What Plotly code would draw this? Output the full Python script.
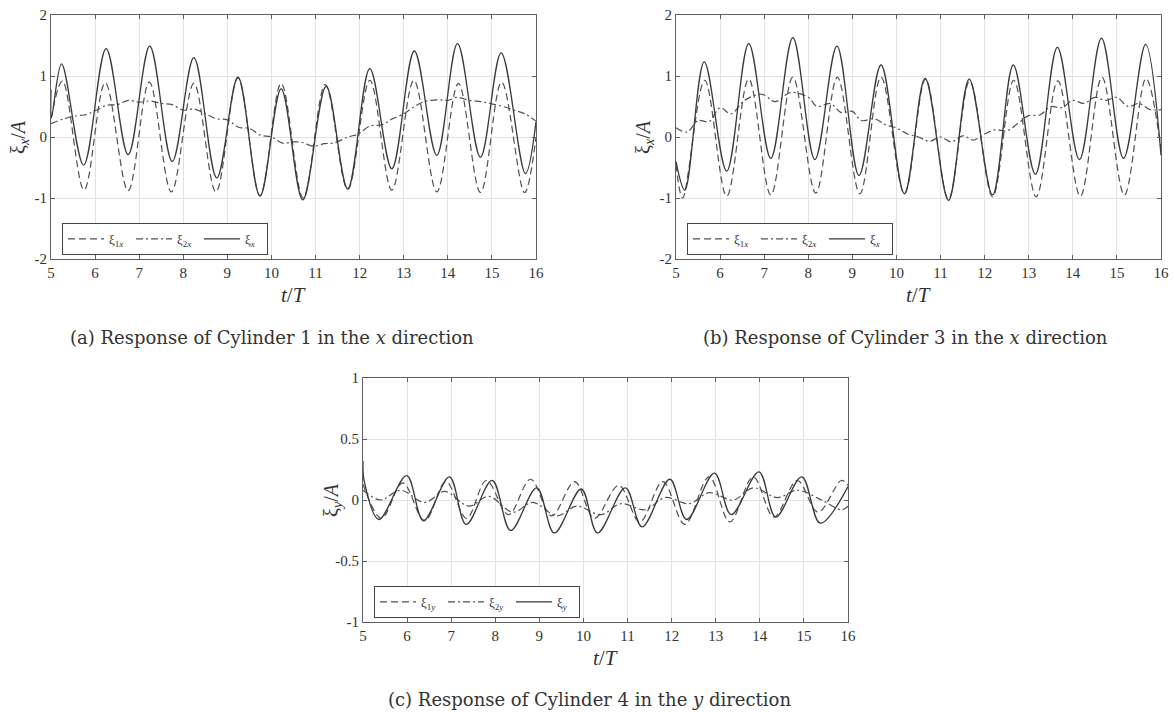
import plotly.graph_objects as go

W, H = 1174, 712

# ---------------- data ----------------
# Panel (a): Cylinder 1, x direction
ta_sol = [5.0, 5.012, 5.24, 5.74, 6.25, 6.75, 7.24, 7.75, 8.24, 8.76, 9.24, 9.74, 10.22, 10.71,
          11.24, 11.73, 12.23, 12.73, 13.24, 13.75, 14.22, 14.74, 15.21, 15.76, 16.0]
va_sol = [0.78, 0.32, 1.2, -0.46, 1.45, -0.29, 1.49, -0.4, 1.3, -0.67, 0.98, -0.97, 0.79, -1.03,
          0.83, -0.85, 1.12, -0.52, 1.41, -0.3, 1.53, -0.33, 1.38, -0.6, 0.25]
ta_d1 = [5.0, 5.26, 5.75, 6.23, 6.75, 7.23, 7.73, 8.24, 8.74, 9.24, 9.74, 10.22, 10.72, 11.22,
         11.73, 12.23, 12.73, 13.23, 13.75, 14.24, 14.74, 15.22, 15.74, 16.0]
va_d1 = [0.3, 0.92, -0.87, 0.89, -0.88, 0.9, -0.9, 0.88, -0.9, 0.97, -0.96, 0.88, -1.0, 0.86,
         -0.86, 0.93, -0.87, 0.93, -0.9, 0.88, -0.91, 0.9, -0.91, 0.0]
ta_d2 = [5.0, 5.3, 5.6, 5.75, 6.0, 6.26, 6.5, 6.75, 7.0, 7.25, 7.5, 7.75, 8.0, 8.25, 8.5, 8.75,
         9.0, 9.25, 9.5, 9.75, 10.0, 10.25, 10.5, 10.7, 10.95, 11.2, 11.4, 11.74, 11.97, 12.23,
         12.5, 12.75, 13.0, 13.2, 13.47, 13.8, 14.0, 14.2, 14.5, 14.75, 14.95, 15.25, 15.5,
         15.75, 16.0]
va_d2 = [0.22, 0.3, 0.35, 0.36, 0.43, 0.52, 0.53, 0.6, 0.57, 0.59, 0.55, 0.53, 0.44, 0.46, 0.38,
         0.3, 0.28, 0.16, 0.14, 0.03, 0.0, -0.1, -0.08, -0.09, -0.15, -0.11, -0.1, 0.0, 0.05,
         0.18, 0.2, 0.3, 0.38, 0.48, 0.58, 0.61, 0.6, 0.65, 0.6, 0.58, 0.55, 0.5, 0.44, 0.38,
         0.26]

# Panel (b): Cylinder 3, x direction
tb_sol = [5.0, 5.2, 5.64, 6.15, 6.65, 7.15, 7.65, 8.15, 8.65, 9.15, 9.65, 10.18, 10.65, 11.18,
          11.65, 12.18, 12.65, 13.15, 13.65, 14.15, 14.65, 15.15, 15.65, 16.0]
vb_sol = [-0.4, -0.87, 1.23, -0.56, 1.53, -0.35, 1.63, -0.37, 1.49, -0.63, 1.18, -0.93, 0.96,
          -1.04, 0.95, -0.95, 1.18, -0.61, 1.47, -0.37, 1.62, -0.35, 1.52, -0.3]
tb_d1 = [5.0, 5.15, 5.65, 6.15, 6.65, 7.15, 7.65, 8.17, 8.66, 9.17, 9.65, 10.18, 10.66, 11.18,
         11.66, 12.18, 12.66, 13.17, 13.66, 14.17, 14.66, 15.17, 15.66, 16.0]
vb_d1 = [-0.45, -1.0, 0.93, -0.97, 0.95, -0.95, 0.98, -0.92, 0.98, -0.93, 0.98, -0.93, 0.95,
         -1.02, 0.92, -0.98, 0.93, -0.98, 0.92, -0.97, 0.98, -0.95, 0.96, -0.2]
tb_d2 = [5.0, 5.25, 5.5, 5.75, 6.0, 6.25, 6.55, 6.95, 7.25, 7.6, 8.0, 8.2, 8.5, 8.75, 9.0, 9.2,
         9.5, 9.75, 10.0, 10.25, 10.5, 10.75, 11.0, 11.25, 11.5, 11.75, 12.0, 12.25, 12.5,
         12.75, 13.0, 13.25, 13.5, 13.75, 14.0, 14.25, 14.5, 14.75, 15.0, 15.25, 15.5, 15.75,
         16.0]
vb_d2 = [0.15, 0.08, 0.27, 0.25, 0.48, 0.38, 0.6, 0.7, 0.58, 0.73, 0.65, 0.5, 0.55, 0.4, 0.42,
         0.27, 0.3, 0.2, 0.15, 0.05, 0.0, -0.07, 0.0, -0.08, 0.02, -0.05, 0.05, 0.12, 0.1, 0.22,
         0.35, 0.36, 0.5, 0.48, 0.6, 0.55, 0.65, 0.6, 0.65, 0.5, 0.55, 0.45, 0.45]

# Panel (c): Cylinder 4, y direction
tc_sol = [5.0, 5.03, 5.36, 5.99, 6.37, 6.96, 7.34, 7.93, 8.35, 8.94, 9.34, 9.95, 10.32, 10.95,
          11.33, 11.96, 12.34, 12.97, 13.35, 13.98, 14.36, 14.95, 15.37, 16.0]
vc_sol = [0.32, 0.15, -0.16, 0.2, -0.17, 0.19, -0.2, 0.16, -0.25, 0.1, -0.27, 0.09, -0.27, 0.1,
          -0.22, 0.17, -0.16, 0.22, -0.12, 0.23, -0.14, 0.19, -0.19, 0.11]
tc_d1 = [5.0, 5.42, 5.9, 6.4, 6.88, 7.35, 7.8, 8.3, 8.8, 9.28, 9.8, 10.25, 10.8, 11.28, 11.8,
         12.3, 12.85, 13.32, 13.85, 14.32, 14.85, 15.32, 15.85, 16.0]
vc_d1 = [0.13, -0.15, 0.14, -0.17, 0.15, -0.15, 0.16, -0.12, 0.17, -0.13, 0.15, -0.15, 0.12,
         -0.18, 0.15, -0.2, 0.19, -0.18, 0.19, -0.14, 0.16, -0.1, 0.16, 0.12]
tc_d2 = [5.0, 5.4, 5.85, 6.4, 6.85, 7.4, 7.85, 8.4, 8.85, 9.4, 9.85, 10.4, 10.85, 11.4, 11.85,
         12.4, 12.85, 13.4, 13.85, 14.4, 14.85, 15.4, 15.85, 16.0]
vc_d2 = [0.08, 0.0, 0.08, -0.02, 0.07, -0.05, 0.03, -0.1, -0.02, -0.13, -0.05, -0.12, -0.03,
         -0.08, 0.02, -0.03, 0.06, 0.0, 0.1, 0.02, 0.08, 0.0, -0.08, -0.05]

x_ticks = [5, 6, 7, 8, 9, 10, 11, 12, 13, 14, 15, 16]
y_ticks_x = [-2, -1, 0, 1, 2]
y_ticks_x_text = ["-2", "-1", "0", "1", "2"]
y_ticks_y = [-1, -0.5, 0, 0.5, 1]
y_ticks_y_text = ["-1", "-0.5", "0", "0.5", "1"]

captions = ["(a) Response of Cylinder 1 in the <i>x</i> direction",
            "(b) Response of Cylinder 3 in the <i>x</i> direction",
            "(c) Response of Cylinder 4 in the <i>y</i> direction"]

# ---------------- layout geometry (window pixels) ----------------
panels = [
    dict(x0=51, x1=536, y0=15, y1=259),
    dict(x0=676, x1=1161, y0=15, y1=259),
    dict(x0=363, x1=848, y0=378, y1=622),
]
cap_pos = [(272, 337), (905, 337), (590, 699)]


def px(x):
    return x / W


def py(y):
    return 1 - y / H


FONT = "Liberation Serif"
CAPFONT = "DejaVu Serif"
C_SOL = "#3a3a3a"
C_DASH = "#505050"
C_DD = "#505050"
AXC = "#5f5f5f"
GRID = "#e2e2e2"
TXT = "#333333"

fig = go.Figure()

series = [
    (ta_d1, va_d1, ta_d2, va_d2, ta_sol, va_sol, "x"),
    (tb_d1, vb_d1, tb_d2, vb_d2, tb_sol, vb_sol, "x"),
    (tc_d1, vc_d1, tc_d2, vc_d2, tc_sol, vc_sol, "y"),
]

for i, (t1, v1, t2, v2, ts, vs, comp) in enumerate(series):
    ax = "" if i == 0 else str(i + 1)
    lg = "legend" if i == 0 else f"legend{i + 1}"
    common = dict(mode="lines", xaxis="x" + ax, yaxis="y" + ax, legend=lg,
                  line_shape="spline")
    fig.add_trace(go.Scatter(x=t1, y=v1, name=f"ξ<sub>1<i>{comp}</i></sub>",
                             line=dict(color=C_DASH, width=1.2, dash="7px,4px", smoothing=1.0),
                             **common))
    fig.add_trace(go.Scatter(x=t2, y=v2, name=f"ξ<sub>2<i>{comp}</i></sub>",
                             line=dict(color=C_DD, width=1.2, dash="7px,3px,2px,3px", smoothing=1.0),
                             **common))
    fig.add_trace(go.Scatter(x=ts, y=vs, name=f"ξ<sub><i>{comp}</i></sub>",
                             line=dict(color=C_SOL, width=1.3, smoothing=1.0),
                             **common))

layout = dict(width=W, height=H, margin=dict(l=0, r=0, t=0, b=0, autoexpand=False),
              paper_bgcolor="white", plot_bgcolor="white",
              font=dict(family=FONT, size=14, color=TXT))

annotations = []
for i, p in enumerate(panels):
    ax = "" if i == 0 else str(i + 1)
    yx = i < 2
    tickfont = dict(size=15, family=FONT, color=TXT)
    xa = dict(domain=[px(p["x0"]), px(p["x1"])], range=[5, 16], automargin=False,
              anchor="y" + ax, tickvals=x_ticks, ticktext=[str(v) for v in x_ticks],
              showgrid=True, gridcolor=GRID, gridwidth=1, zeroline=False,
              showline=True, linecolor=AXC, linewidth=1, mirror="ticks",
              ticks="inside", ticklen=4, tickcolor=AXC, tickfont=tickfont,
              ticklabeloverflow="allow")
    ya = dict(domain=[py(p["y1"]), py(p["y0"])], automargin=False,
              range=[-2, 2] if yx else [-1, 1], anchor="x" + ax,
              tickvals=y_ticks_x if yx else y_ticks_y,
              ticktext=y_ticks_x_text if yx else y_ticks_y_text,
              showgrid=True, gridcolor=GRID, gridwidth=1, zeroline=False,
              showline=True, linecolor=AXC, linewidth=1, mirror="ticks",
              ticks="inside", ticklen=4, tickcolor=AXC, tickfont=tickfont,
              ticklabeloverflow="allow")
    layout["xaxis" + ax] = xa
    layout["yaxis" + ax] = ya
    lg = "legend" if i == 0 else f"legend{i + 1}"
    layout[lg] = dict(orientation="h", x=px(p["x0"] + 11), y=py(p["y1"] - 36),
                      xanchor="left", yanchor="top", bgcolor="white",
                      bordercolor="#444", borderwidth=1, itemwidth=36,
                      entrywidth=17, entrywidthmode="pixels",
                      font=dict(size=13, family=FONT, color=TXT),
                      tracegroupgap=0)
    # axis titles
    annotations.append(dict(text="<i>t</i>/<i>T</i>", x=px((p["x0"] + p["x1"]) / 2),
                            y=py(p["y1"] + 36), xref="paper", yref="paper",
                            showarrow=False, xanchor="center", yanchor="middle",
                            font=dict(size=21, family=FONT, color=TXT)))
    annotations.append(dict(text="ξ<sub><i>%s</i></sub>/<i>A</i>" % ("x" if yx else "y"),
                            x=px(p["x0"] - 31), y=py((p["y0"] + p["y1"]) / 2),
                            xref="paper", yref="paper", textangle=-90,
                            showarrow=False, xanchor="center", yanchor="middle",
                            font=dict(size=20, family=FONT, color=TXT)))

for (cx, cy), txt in zip(cap_pos, captions):
    annotations.append(dict(text=txt, x=px(cx), y=py(cy), xref="paper", yref="paper",
                            showarrow=False, xanchor="center", yanchor="middle",
                            font=dict(size=18, family=CAPFONT, color=TXT)))
layout["annotations"] = annotations

fig.update_layout(**layout)
fig.write_html("out.html", config={"displayModeBar": False},
               post_script="document.body.style.margin='0';document.body.style.overflow='hidden';")
